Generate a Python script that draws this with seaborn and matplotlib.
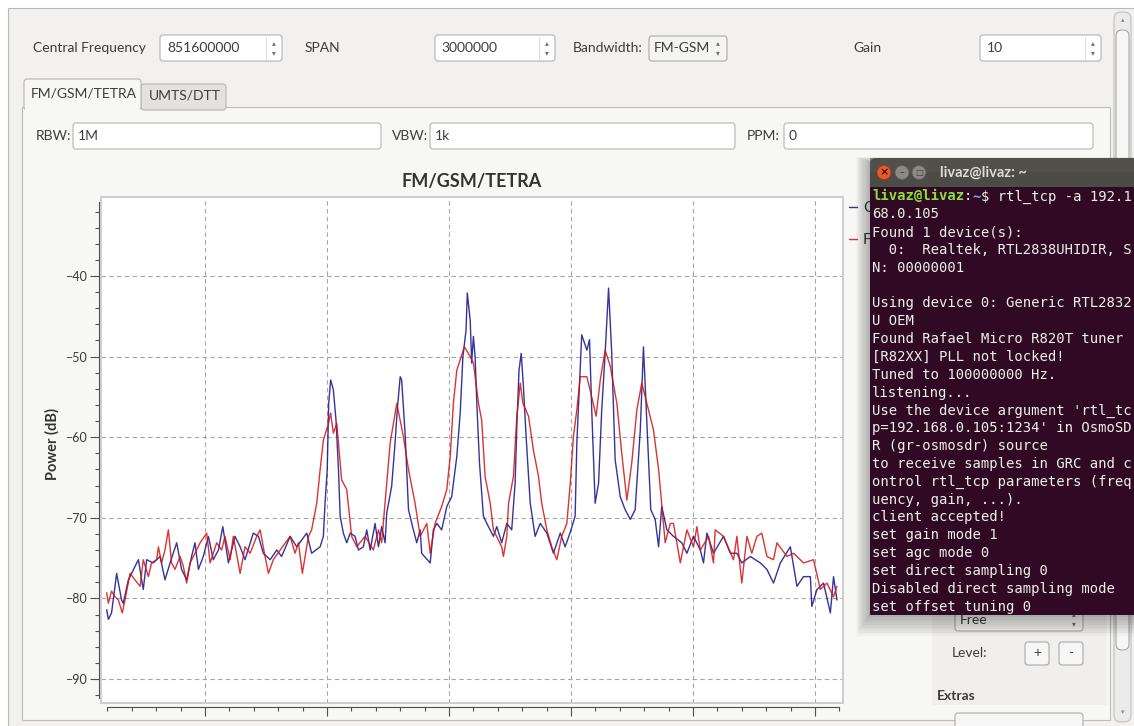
import numpy as np
import pandas as pd
import matplotlib
matplotlib.use("Agg")
import matplotlib.pyplot as plt
import seaborn as sns
from matplotlib.patches import Rectangle, FancyBboxPatch, Circle
from matplotlib.ticker import MultipleLocator, NullFormatter

# ---------------- data ----------------
freq_c = [850.097, 850.104, 850.117, 850.138, 850.158, 850.165, 850.186, 850.227, 850.247, 850.261,
          850.288, 850.316, 850.336, 850.357, 850.384, 850.404, 850.425, 850.445, 850.459, 850.473,
          850.493, 850.514, 850.534, 850.555, 850.573, 850.596, 850.623, 850.644, 850.664, 850.698,
          850.719, 850.739, 850.767, 850.794, 850.814, 850.849, 850.876, 850.917, 850.937, 850.972,
          850.985, 850.992, 851.001, 851.007, 851.015, 851.026, 851.037, 851.047, 851.054, 851.067,
          851.081, 851.095, 851.115, 851.129, 851.149, 851.163, 851.177, 851.197, 851.211, 851.224,
          851.238, 851.245, 851.265, 851.279, 851.288, 851.300, 851.306, 851.320, 851.334, 851.354,
          851.368, 851.382, 851.388, 851.423, 851.436, 851.450, 851.470, 851.491, 851.511, 851.532,
          851.546, 851.557, 851.570, 851.575, 851.587, 851.593, 851.600, 851.607, 851.614, 851.625,
          851.641, 851.655, 851.682, 851.696, 851.716, 851.737, 851.757, 851.771, 851.778, 851.787,
          851.796, 851.805, 851.816, 851.833, 851.853, 851.874, 851.901, 851.928, 851.956, 851.976,
          851.997, 852.017, 852.024, 852.044, 852.065, 852.076, 852.085, 852.099, 852.113, 852.126,
          852.140, 852.154, 852.167, 852.181, 852.202, 852.222, 852.243, 852.263, 852.284, 852.297,
          852.311, 852.327, 852.345, 852.359, 852.372, 852.393, 852.420, 852.454, 852.475, 852.502,
          852.530, 852.543, 852.557, 852.584, 852.625, 852.653, 852.680, 852.700, 852.735, 852.776,
          852.803, 852.830, 852.858, 852.899, 852.926, 852.953, 852.981, 852.987, 853.008, 853.035,
          853.063, 853.076, 853.090]
power_c = [-81.4, -82.6, -81.8, -76.9, -80.2, -80.6, -77.7, -75.2, -78.9, -75.2,
           -75.6, -74.8, -77.7, -75.6, -73.1, -76.4, -77.7, -74.8, -73.1, -76.4,
           -74.8, -72.3, -75.2, -74.0, -71.1, -75.6, -72.3, -73.6, -75.2, -71.9,
           -72.3, -74.4, -75.2, -74.0, -74.8, -72.3, -73.6, -71.9, -74.4, -73.6,
           -72.3, -68.2, -64.0, -55.8, -52.9, -54.1, -57.9, -64.0, -69.8, -71.9,
           -73.1, -71.9, -72.3, -74.0, -73.6, -71.5, -74.0, -70.7, -73.6, -71.1,
           -73.1, -69.4, -66.1, -60.7, -56.6, -52.5, -52.9, -59.5, -69.0, -71.5,
           -73.1, -71.5, -74.4, -75.6, -71.5, -70.7, -71.5, -68.6, -67.4, -62.4,
           -57.0, -50.0, -46.7, -42.1, -45.5, -50.8, -47.5, -50.0, -55.8, -63.2,
           -69.8, -70.7, -72.3, -71.1, -73.1, -70.7, -71.5, -65.7, -58.7, -51.7,
           -49.6, -53.7, -59.9, -68.2, -72.3, -70.7, -71.9, -74.4, -71.9, -73.6,
           -71.8, -69.8, -60.7, -47.3, -49.2, -47.9, -56.6, -68.2, -65.7, -56.6,
           -49.6, -41.5, -49.6, -62.8, -67.4, -69.0, -70.2, -69.0, -59.1, -48.8,
           -58.3, -69.0, -70.2, -73.6, -68.6, -71.5, -72.3, -73.1, -74.4, -72.3,
           -74.0, -75.6, -71.9, -74.4, -72.3, -74.4, -74.4, -75.6, -74.8, -75.6,
           -76.4, -78.1, -75.6, -73.6, -78.5, -77.3, -77.3, -81.0, -78.9, -78.1,
           -81.8, -77.3, -80.2]

freq_f = [850.097, 850.104, 850.117, 850.131, 850.145, 850.161, 850.172, 850.193, 850.213, 850.234,
          850.247, 850.268, 850.281, 850.302, 850.309, 850.322, 850.336, 850.350, 850.363, 850.377,
          850.398, 850.411, 850.425, 850.439, 850.459, 850.480, 850.507, 850.521, 850.548, 850.568,
          850.582, 850.603, 850.616, 850.644, 850.664, 850.685, 850.712, 850.726, 850.746, 850.760,
          850.780, 850.808, 850.849, 850.869, 850.883, 850.899, 850.924, 850.937, 850.958, 850.972,
          850.985, 851.006, 851.015, 851.026, 851.040, 851.060, 851.074, 851.081, 851.101, 851.122,
          851.156, 851.190, 851.211, 851.224, 851.245, 851.259, 851.286, 851.313, 851.334, 851.361,
          851.382, 851.409, 851.423, 851.443, 851.470, 851.491, 851.505, 851.518, 851.532, 851.563,
          851.587, 851.600, 851.621, 851.634, 851.648, 851.669, 851.682, 851.716, 851.723, 851.737,
          851.744, 851.764, 851.778, 851.792, 851.803, 851.826, 851.846, 851.867, 851.880, 851.901,
          851.921, 851.942, 851.962, 851.983, 851.997, 852.010, 852.024, 852.038, 852.065, 852.085,
          852.103, 852.120, 852.140, 852.161, 852.188, 852.208, 852.229, 852.249, 852.270, 852.290,
          852.311, 852.338, 852.359, 852.386, 852.407, 852.420, 852.448, 852.475, 852.502, 852.516,
          852.530, 852.564, 852.584, 852.591, 852.625, 852.666, 852.680, 852.700, 852.721, 852.741,
          852.762, 852.782, 852.803, 852.830, 852.844, 852.885, 852.912, 852.953, 852.994, 853.022,
          853.049, 853.076, 853.090]
power_f = [-79.3, -80.6, -79.1, -79.8, -80.2, -81.8, -80.2, -76.9, -77.7, -78.5,
           -75.2, -77.3, -75.6, -75.2, -73.6, -75.6, -74.0, -71.5, -75.6, -76.4,
           -74.8, -76.0, -78.1, -75.6, -74.4, -73.1, -71.9, -75.6, -73.1, -74.0,
           -72.3, -75.2, -72.3, -76.9, -73.6, -74.4, -72.3, -71.5, -74.8, -76.9,
           -75.2, -74.0, -72.3, -74.4, -73.1, -76.9, -72.3, -71.5, -68.2, -64.0,
           -60.4, -58.3, -57.0, -59.5, -58.3, -65.3, -66.1, -66.5, -72.3, -73.6,
           -72.3, -74.0, -71.5, -73.1, -65.7, -60.7, -55.8, -59.9, -64.0, -68.2,
           -72.3, -70.7, -74.4, -70.7, -68.6, -66.5, -62.4, -55.8, -51.7, -48.8,
           -50.0, -50.8, -55.8, -57.9, -64.9, -68.2, -71.5, -73.6, -74.8, -72.3,
           -68.2, -64.9, -57.4, -53.3, -55.8, -57.4, -61.6, -64.9, -68.2, -71.5,
           -73.6, -75.2, -72.3, -70.7, -65.7, -59.9, -56.6, -52.5, -52.5, -55.0,
           -57.4, -52.9, -49.2, -51.2, -55.8, -62.0, -67.8, -63.2, -56.6, -53.3,
           -55.8, -59.1, -64.0, -73.1, -70.7, -70.7, -75.6, -71.5, -73.6, -71.1,
           -74.0, -72.3, -75.6, -71.5, -72.3, -75.2, -72.3, -78.1, -72.3, -74.4,
           -72.3, -71.9, -74.8, -75.2, -73.1, -74.8, -74.4, -75.6, -75.2, -78.9,
           -78.1, -79.8, -78.5]

series_names = ["C", "F"]
series_colors = ["#10108a", "#d41010"]
y_major_ticks = [-90, -80, -70, -60, -50, -40]

terminal_lines = [
    None,
    "68.0.105",
    "Found 1 device(s):",
    "  0:  Realtek, RTL2838UHIDIR, S",
    "N: 00000001",
    "",
    "Using device 0: Generic RTL2832",
    "U OEM",
    "Found Rafael Micro R820T tuner",
    "[R82XX] PLL not locked!",
    "Tuned to 100000000 Hz.",
    "listening...",
    "Use the device argument 'rtl_tc",
    "p=192.168.0.105:1234' in OsmoSD",
    "R (gr-osmosdr) source",
    "to receive samples in GRC and c",
    "ontrol rtl_tcp parameters (freq",
    "uency, gain, ...).",
    "client accepted!",
    "set gain mode 1",
    "set agc mode 0",
    "set direct sampling 0",
    "Disabled direct sampling mode",
    "set offset tuning 0",
]

# ---------------- figure ----------------
sns.set_style("white")
plt.rcParams['font.family'] = ['Lato', 'DejaVu Sans']

W, H = 1134, 726
fig = plt.figure(figsize=(W / 100, H / 100), dpi=100)
fig.patch.set_facecolor('white')

gui = fig.add_axes([0, 0, 1, 1], zorder=0)
gui.set_xlim(0, W)
gui.set_ylim(H, 0)
gui.axis('off')

TXT = '#3c3c3c'


def rbox(axx, x0, y0, x1, y1, fc, ec, r=3, lw=0.8, z=1):
    p = FancyBboxPatch((x0, y0), x1 - x0, y1 - y0,
                       boxstyle=f"round,pad=0,rounding_size={r}",
                       fc=fc, ec=ec, lw=lw, zorder=z)
    axx.add_patch(p)


def lab(axx, x, y, s, fs=10, color=TXT, ha='left', **kw):
    axx.text(x, y, s, fontsize=fs, color=color, ha=ha, va='center', **kw)


def arrows(axx, x, yc, z=3):
    axx.text(x, yc - 5, '\u25b4', fontsize=5.5, color='#707070', ha='center', va='center',
             family='DejaVu Sans', zorder=z)
    axx.text(x, yc + 5, '\u25be', fontsize=5.5, color='#707070', ha='center', va='center',
             family='DejaVu Sans', zorder=z)


# window
gui.add_patch(Rectangle((8, 8), W, H, fc='#f2f1f0', ec='#b9b9b9', lw=0.8, zorder=0.5))

# top row
lab(gui, 33, 48, 'Central Frequency')
rbox(gui, 160, 35, 282, 61, 'white', '#b3b3b3')
gui.plot([266, 266], [37, 59], color='#dedede', lw=0.7, zorder=2)
lab(gui, 167, 48, '851600000')
arrows(gui, 274, 48)
lab(gui, 305, 48, 'SPAN')
rbox(gui, 435, 35, 555, 61, 'white', '#b3b3b3')
gui.plot([539, 539], [37, 59], color='#dedede', lw=0.7, zorder=2)
lab(gui, 441, 48, '3000000')
arrows(gui, 547, 48)
lab(gui, 573, 48, 'Bandwidth:')
rbox(gui, 649, 36, 727, 61, '#f4f4f3', '#aaaaaa')
lab(gui, 654, 48, 'FM-GSM')
arrows(gui, 718, 48)
lab(gui, 853, 48, 'Gain')
rbox(gui, 980, 35, 1101, 61, 'white', '#b3b3b3')
gui.plot([1085, 1085], [37, 59], color='#dedede', lw=0.7, zorder=2)
lab(gui, 987, 48, '10')
arrows(gui, 1093, 48)

# tab pane
PANE = '#f7f7f6'
gui.add_patch(Rectangle((22, 107), 1088, 613, fc=PANE, ec='#bcbcbc', lw=0.8, zorder=1))
rbox(gui, 141, 84, 226, 110, '#e3e2e1', '#b5b5b5', r=3, z=1.2)
lab(gui, 149, 96, 'UMTS/DTT')
rbox(gui, 24, 79, 141, 110, PANE, '#b5b5b5', r=3, z=1.3)
gui.add_patch(Rectangle((25, 105), 115, 6, fc=PANE, ec='none', zorder=1.4))
lab(gui, 31, 94, 'FM/GSM/TETRA')

# RBW / VBW / PPM row
lab(gui, 36, 136, 'RBW:')
rbox(gui, 73, 123, 381, 149, 'white', '#b3b3b3')
lab(gui, 78, 136, '1M')
lab(gui, 392, 136, 'VBW:')
rbox(gui, 430, 123, 735, 149, 'white', '#b3b3b3')
lab(gui, 435, 136, '1k')
lab(gui, 747, 136, 'PPM:')
rbox(gui, 784, 123, 1093, 149, 'white', '#b3b3b3')
lab(gui, 789, 136, '0')

# right control panel (partly under the terminal)
gui.add_patch(Rectangle((932, 160), 175, 545, fc='#f0efee', ec='none', zorder=1.1))
rbox(gui, 955, 607, 1083, 631, '#f4f4f3', '#aaaaaa', z=2)
lab(gui, 960, 620, 'Free')
arrows(gui, 1074, 619)
lab(gui, 952, 653, 'Level:')
rbox(gui, 1025, 642, 1049, 665, '#f6f6f6', '#a9a9a9', z=2)
lab(gui, 1037, 653, '+', ha='center')
rbox(gui, 1059, 642, 1083, 665, '#f6f6f6', '#a9a9a9', z=2)
lab(gui, 1071, 653, '-', ha='center')
lab(gui, 937, 696, 'Extras', fontweight='bold')
rbox(gui, 955, 713, 1083, 740, '#f6f6f6', '#aaaaaa', z=2)

# scrollbar
rbox(gui, 1114, 12, 1131, 722, '#ebebeb', '#c0c0c0', r=7, z=2)
rbox(gui, 1116, 30, 1129, 650, '#f6f6f6', '#a8a8a8', r=6, z=2.1)
gui.text(1122.5, 20, '\u25b4', fontsize=5, color='#8a8a8a', ha='center', va='center',
         family='DejaVu Sans', zorder=3)
gui.text(1122.5, 712, '\u25be', fontsize=5, color='#8a8a8a', ha='center', va='center',
         family='DejaVu Sans', zorder=3)

# ---------------- the plot ----------------
ax = fig.add_axes([101 / W, 1 - 703 / H, 742 / W, 506 / H], zorder=1)
ax.set_facecolor('white')

df = pd.concat([
    pd.DataFrame({'freq': freq_c, 'power': power_c, 'trace': series_names[0]}),
    pd.DataFrame({'freq': freq_f, 'power': power_f, 'trace': series_names[1]}),
], ignore_index=True)

sns.lineplot(data=df, x='freq', y='power', hue='trace',
             palette=dict(zip(series_names, series_colors)),
             estimator=None, sort=False, linewidth=1.0, alpha=0.85, ax=ax)

ax.set_xlim(850.0738, 853.1148)
ax.set_ylim(-92.98, -30.2)
ax.xaxis.set_major_locator(MultipleLocator(0.5))
ax.xaxis.set_minor_locator(MultipleLocator(0.1))
ax.xaxis.set_major_formatter(NullFormatter())
ax.set_yticks(y_major_ticks)
ax.yaxis.set_minor_locator(MultipleLocator(2))
ax.set_axisbelow(True)
ax.grid(True, which='major', color='#a6a6a6', linestyle=(0, (4, 3)), linewidth=0.8)

ax.tick_params(axis='y', which='major', direction='out', length=6.5, width=0.8,
               color='#505050', labelsize=9, labelcolor='#3a3a3a', pad=2, left=True)
ax.tick_params(axis='y', which='minor', direction='out', length=3, width=0.8,
               color='#505050', left=True)
ax.tick_params(axis='x', which='major', direction='out', length=6.5, width=0.8,
               color='#505050', labelbottom=False, bottom=True)
ax.tick_params(axis='x', which='minor', direction='out', length=3, width=0.8,
               color='#505050', bottom=True)

for s in ['top', 'right']:
    ax.spines[s].set_visible(False)
ax.spines['left'].set_position(('outward', 1.5))
ax.spines['left'].set_bounds(-92.3, -30.8)
ax.spines['bottom'].set_position(('outward', 3))
ax.spines['bottom'].set_bounds(850.1, 853.1)
for s in ['left', 'bottom']:
    ax.spines[s].set_color('#505050')
    ax.spines[s].set_linewidth(0.8)

ax.add_patch(Rectangle((0, 0), 1, 1, transform=ax.transAxes, fill=False,
                       ec='#cdcdcd', lw=1.4, clip_on=False, zorder=5))

ax.set_xlabel('')
ax.set_ylabel('Power (dB)', fontsize=10.5, fontweight='bold', color='#333333')
ax.yaxis.label.set_rotation_mode('anchor')
ax.yaxis.label.set_verticalalignment('center')
ax.yaxis.set_label_coords((52 - 101) / 742, (703 - 444) / 506)
ax.set_title('FM/GSM/TETRA', fontsize=13, fontweight='bold', color='#333333', pad=7)

handles, labels = ax.get_legend_handles_labels()
ax.legend(handles, labels, loc='upper left', bbox_to_anchor=(849 / W, 1 - 201 / H),
          bbox_transform=fig.transFigure, frameon=False, fontsize=11,
          handlelength=0.55, handletextpad=0.35, labelspacing=1.2,
          borderpad=0, borderaxespad=0, labelcolor='#3c3c3c')

# ---------------- terminal window overlay ----------------
ov = fig.add_axes([0, 0, 1, 1], zorder=3)
ov.set_xlim(0, W)
ov.set_ylim(H, 0)
ov.axis('off')
ov.patch.set_alpha(0)

for k in range(1, 14):
    ov.add_patch(Rectangle((870 - k * 1.1, 162 - k * 0.4), 280, 453 + k * 2.0,
                           fc='black', ec='none', alpha=0.022, zorder=1))

rbox(ov, 870, 158, 1145, 200, '#4c4b46', 'none', r=6, lw=0, z=2)
ov.add_patch(Rectangle((870, 158), 280, 14, fc='#55544f', ec='none', zorder=2.05, alpha=0.6))
ov.add_patch(Rectangle((870, 187), 270, 428, fc='#300a24', ec='none', zorder=2.1))

ov.add_patch(Circle((884, 172.5), 7, fc='#ec5a2a', ec='#9c3a18', lw=0.6, zorder=3))
ov.text(884, 172.5, '\u00d7', fontsize=8, color='#3a1005', ha='center', va='center',
        family='DejaVu Sans', fontweight='bold', zorder=4)
ov.add_patch(Circle((902, 172.5), 7, fc='#8c8a84', ec='#5c5b57', lw=0.6, zorder=3))
ov.text(902, 172.5, '\u2013', fontsize=7, color='#3a3a38', ha='center', va='center',
        family='DejaVu Sans', zorder=4)
ov.add_patch(Circle((919, 172.5), 7, fc='#8c8a84', ec='#5c5b57', lw=0.6, zorder=3))
ov.text(919, 172.5, '\u25a1', fontsize=6, color='#3a3a38', ha='center', va='center',
        family='DejaVu Sans', zorder=4)
ov.text(940, 172.5, 'livaz@livaz: ~', fontsize=10.5, color='#dfdbd2', fontweight='bold',
        ha='left', va='center', zorder=4)

MONO = 'DejaVu Sans Mono'
CW = 8.36
x0 = 872
y_first = 196.5
dy = 17.83
segs = [('livaz@livaz', '#8ae234', 'bold'), (':', '#eeeeec', 'normal'),
        ('~', '#729fcf', 'bold'), ('$ rtl_tcp -a 192.1', '#eeeeec', 'normal')]
cx = x0
for s, c, w in segs:
    ov.text(cx, y_first, s, family=MONO, fontsize=10, color=c, fontweight=w,
            ha='left', va='center', zorder=4)
    cx += len(s) * CW
for i, line in enumerate(terminal_lines):
    if not line:
        continue
    ov.text(x0, y_first + i * dy, line, family=MONO, fontsize=10, color='#eeeeec',
            ha='left', va='center', zorder=4)

fig.savefig('out.png', dpi=100, facecolor=fig.get_facecolor())
